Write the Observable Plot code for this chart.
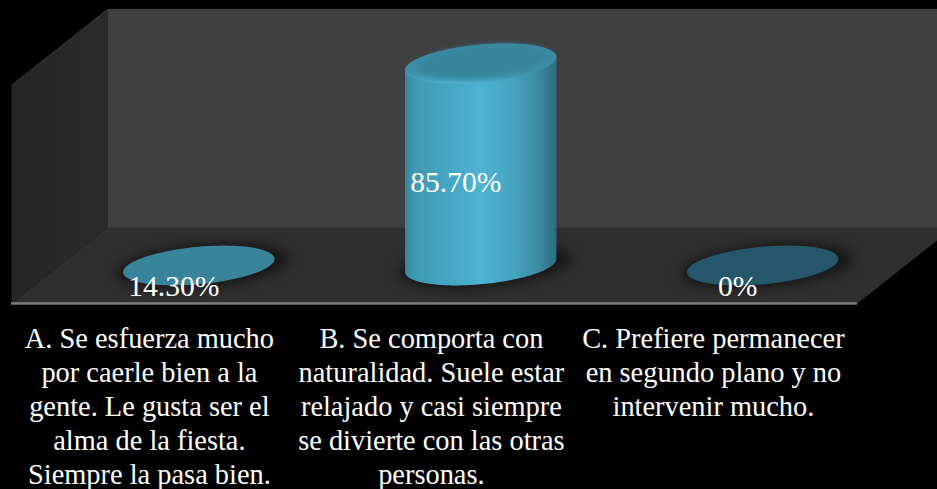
<!DOCTYPE html>
<html>
<head>
<meta charset="utf-8">
<script src="https://cdn.jsdelivr.net/npm/d3@7"></script>
<script src="https://cdn.jsdelivr.net/npm/@observablehq/plot@0.6"></script>
<style>
  html, body { margin: 0; padding: 0; background: #000; overflow: hidden; }
  svg { display: block; }
</style>
</head>
<body>
<script>
const categories = [
  "A. Se esfuerza mucho\npor caerle bien a la\ngente. Le gusta ser el\nalma de la fiesta.\nSiempre la pasa bien.",
  "B. Se comporta con\nnaturalidad. Suele estar\nrelajado y casi siempre\nse divierte con las otras\npersonas.",
  "C. Prefiere permanecer\nen segundo plano y no\nintervenir mucho."
];
const percent = [14.3, 85.7, 0];
const valueLabels = ["14.30%", "85.70%", "0%"];
const slots = [0.494, 1.494, 2.494];

// Oblique room: the y axis starts at 14.3, so smaller values rest flat on the floor.
const floorValue = 14.3;
const wallHeight = 91.4;
const depthX = 0.34;
const depthY = 26.86;
const radiusX = 0.2532;
const radiusDepth = 0.262;
const level = (v) => Math.max(v, floorValue);

const project = (u, v, d) => ({x: u + d * depthX, y: level(v) + d * depthY});
const polygon = (corners) => corners.map(([u, v, d]) => project(u, v, d));

// A circle on a horizontal plane, sheared by the oblique projection.
function ring(u, v, scale = 1, shiftDepth = 0, from = 0, to = 360) {
  const pts = [];
  for (let deg = from; deg <= to; deg += 2) {
    const t = (deg * Math.PI) / 180;
    pts.push({
      x: u + scale * radiusX * Math.cos(t) + depthX * (0.5 + shiftDepth + scale * radiusDepth * Math.sin(t)),
      y: level(v) + depthY * (0.5 + shiftDepth + scale * radiusDepth * Math.sin(t))
    });
  }
  return pts;
}

const silhouette = Math.round((Math.atan2(depthX * radiusDepth, radiusX) * 180) / Math.PI);
const cylinderBody = (u, v) => [
  ...ring(u, v, 1, 0, silhouette, silhouette + 180),
  ...ring(u, 0, 1, 0, silhouette + 180, silhouette + 360)
];

const surface = (pts, options) => Plot.line(pts, {x: "x", y: "y", stroke: "none", ...options});

const gradients = () => {
  const defs = d3.create("svg:defs");
  const side = defs.append("linearGradient").attr("id", "cylinder-side");
  [[0, "#37869d"], [0.06, "#3f99b3"], [0.5, "#4cb3d2"], [0.72, "#45a4c0"], [0.9, "#3a869e"], [1, "#2e6d80"]]
    .forEach(([o, c]) => side.append("stop").attr("offset", o).attr("stop-color", c));
  const back = defs.append("linearGradient").attr("id", "wall-left");
  [[0, "#252525"], [1, "#2b2b2b"]]
    .forEach(([o, c]) => back.append("stop").attr("offset", o).attr("stop-color", c));
  const cap = defs.append("linearGradient").attr("id", "cylinder-cap")
    .attr("x1", 0).attr("y1", 0).attr("x2", 0).attr("y2", 1);
  [[0, "#3a8aa3"], [0.7, "#3c90a9"], [0.92, "#46a6c2"], [1, "#52b8d6"]]
    .forEach(([o, c]) => cap.append("stop").attr("offset", o).attr("stop-color", c));
  return defs.node();
};

const ellipseFill = ["#38849b", null, "#25586a"];

const shadows = slots.map((u) =>
  surface(ring(u + 0.016, 0, 1.14, -0.005), {fill: "#161616", imageFilter: "blur(6px)"})
);

const plot = Plot.plot({
  width: 937,
  height: 489,
  margin: 0,
  style: {background: "#000", color: "#fff", overflow: "hidden"},
  x: {domain: [0, 3], range: [11, 857], axis: null},
  y: {domain: [floorValue, 120], range: [303, 4], axis: null},
  marks: [
    gradients,
    // Walls and floor
    surface(polygon([[0, 0, 1], [3, 0, 1], [3, wallHeight, 1], [0, wallHeight, 1], [0, 0, 1]]), {fill: "#3f3f3f"}),
    surface(polygon([[0, 0, 0], [0, 0, 1], [0, wallHeight, 1], [0, wallHeight, 0], [0, 0, 0]]), {fill: "url(#wall-left)"}),
    surface(polygon([[0, 0, 0], [3, 0, 0], [3, 0, 1], [0, 0, 1], [0, 0, 0]]), {fill: "#2f2f2f"}),
    surface(polygon([[0, wallHeight, 1], [3, wallHeight, 1]]), {stroke: "#4a4a4a", strokeWidth: 1}),
    surface(polygon([[0, 0, 1], [3, 0, 1]]), {stroke: "#3a3a3a", strokeWidth: 1}),
    surface(polygon([[0, wallHeight, 0], [0, wallHeight, 1], [3, wallHeight, 1]]), {stroke: "#3a3a3a", strokeWidth: 1}),
    Plot.ruleY([floorValue], {x1: 0, x2: 3, stroke: "#7f7f7f", strokeWidth: 2.5}),
    // Floor shadows
    ...shadows,
    // Flat bars
    surface(ring(slots[0], percent[0]), {fill: ellipseFill[0]}),
    surface(ring(slots[2], percent[2]), {fill: ellipseFill[2]}),
    // Standing bar
    surface(cylinderBody(slots[1], percent[1]), {fill: "url(#cylinder-side)"}),
    surface(ring(slots[1], percent[1]), {fill: "url(#cylinder-cap)"}),
    surface(ring(slots[1], percent[1], 0.86, 0.025), {fill: "#38859d", imageFilter: "blur(3px)"}),
    // Value labels sit halfway up each bar
    Plot.text(percent, {
      x: (d, i) => slots[i] + 0.005 + 0.225 * depthX,
      y: (d) => floorValue + (level(d) - floorValue) * 0.515 + 0.225 * depthY,
      text: (d, i) => valueLabels[i],
      fill: "#fff",
      fontFamily: "Liberation Serif",
      fontSize: 29.6,
      textAnchor: "middle"
    }),
    // Category captions under the floor
    Plot.text(categories, {
      x: (d, i) => slots[i] - 0.005,
      y: floorValue,
      text: (d) => d,
      dy: 20,
      lineAnchor: "top",
      lineHeight: 1.2,
      fill: "#fff",
      fontFamily: "Liberation Serif",
      fontSize: 28.4,
      textAnchor: "middle"
    })
  ]
});

document.body.append(plot);
</script>
</body>
</html>
